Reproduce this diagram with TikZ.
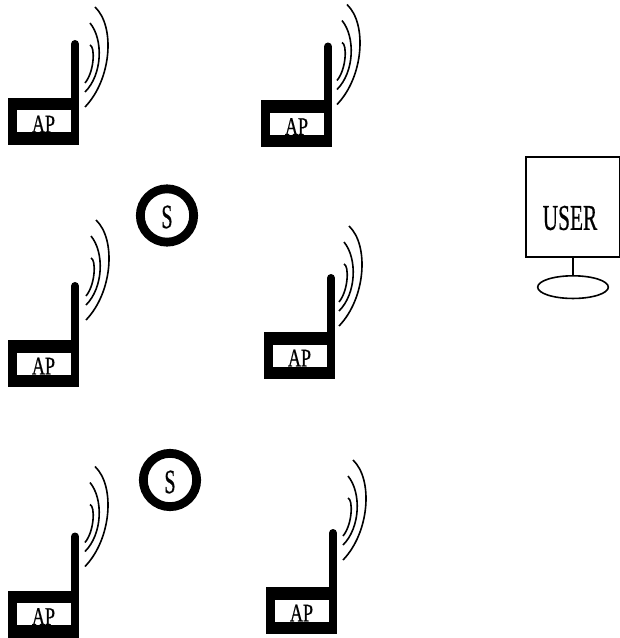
\documentclass[tikz,border=0pt]{standalone}
\usepackage{fontspec}
\setmainfont{Liberation Serif}
\newfontface\labelface{Liberation Serif}[FakeBold=0.7]
\usetikzlibrary{positioning,shapes.geometric}
\tikzset{
  apbase/.style={draw=none, fill=black, minimum width=53.25pt, minimum height=35.25pt, inner sep=0pt},
  apwindow/.style={draw=none, fill=white, minimum width=40.5pt, minimum height=16.5pt, inner sep=0pt},
  aptext/.style={inner sep=0pt, font=\labelface\fontsize{13.5}{14}\selectfont, transform shape, yscale=1.4},
  mast/.style={line width=6pt, line cap=round},
  wave/.style={line width=1.2pt},
  sensor/.style={circle, draw, line width=6.6pt, fill=white, minimum size=40pt, inner sep=0pt},
  sensortext/.style={inner sep=0pt, font=\labelface\fontsize{15}{16}\selectfont, transform shape, yscale=1.7},
  screen/.style={rectangle, draw, line width=1.5pt, minimum width=70pt, minimum height=75.5pt, inner sep=0pt},
  screentext/.style={inner sep=0pt, font=\labelface\fontsize{16}{17}\selectfont, transform shape, yscale=1.7},
  stand/.style={ellipse, draw, line width=1.2pt, minimum width=53pt, minimum height=17pt, inner sep=0pt},
  pics/accesspoint/.style={code={
    \node[apbase] (-base) at (0,0) {};
    \node[apwindow] (-window) at (0,0) {};
    \node[aptext] (-label) at (0,2.5) {AP};
    \draw[mast] (31.5,-23.5) -- (31.5,-77.5);
    % the waves sit at a different height on each access point
    \begin{scope}[shift={#1}]
      \draw[wave] (41.5,-38.5) .. controls (51,-50) and (51.7,-75) .. (46.5,-76.5);
      \draw[wave] (41.5,-29.5) .. controls (59,-47) and (60,-82) .. (46.5,-98.5);
      \draw[wave] (41.5,-14.5) .. controls (68,-42) and (72,-95) .. (51.5,-114.5);
    \end{scope}
  }},
}
\begin{document}
\begin{tikzpicture}[x=0.75pt, y=-0.75pt]
\useasboundingbox (0,0) rectangle (619,638);

% access points, left column
\pic (ap1) at (43.5,121.5) {accesspoint={(0,0)}};
\pic (ap3) at (43.5,363.5) {accesspoint={(1,-29)}};
\pic (ap5) at (43.5,614) {accesspoint={(0,-33)}};

% access points, right column
\pic (ap2) at (296.5,124) {accesspoint={(-1,-5)}};
\pic (ap4) at (299.5,355.5) {accesspoint={(-2,-15)}};
\pic (ap6) at (301.5,610.5) {accesspoint={(0,-36)}};

% sensors
\node[sensor] (s1) at (167,215.5) {};
\node[sensortext] (s1label) at (167,217) {S};
\node[sensor] (s2) at (170,480) {};
\node[sensortext] (s2label) at (170,482) {S};

% user terminal
\node[screen] (user) at (573,207) {};
\node[screentext] (userlabel) at (570,218) {USER};
\node[stand, below=12.5pt of user] (base) {};
\draw[line width=1.2pt] (user.south) -- (base.north);

\end{tikzpicture}
\end{document}
